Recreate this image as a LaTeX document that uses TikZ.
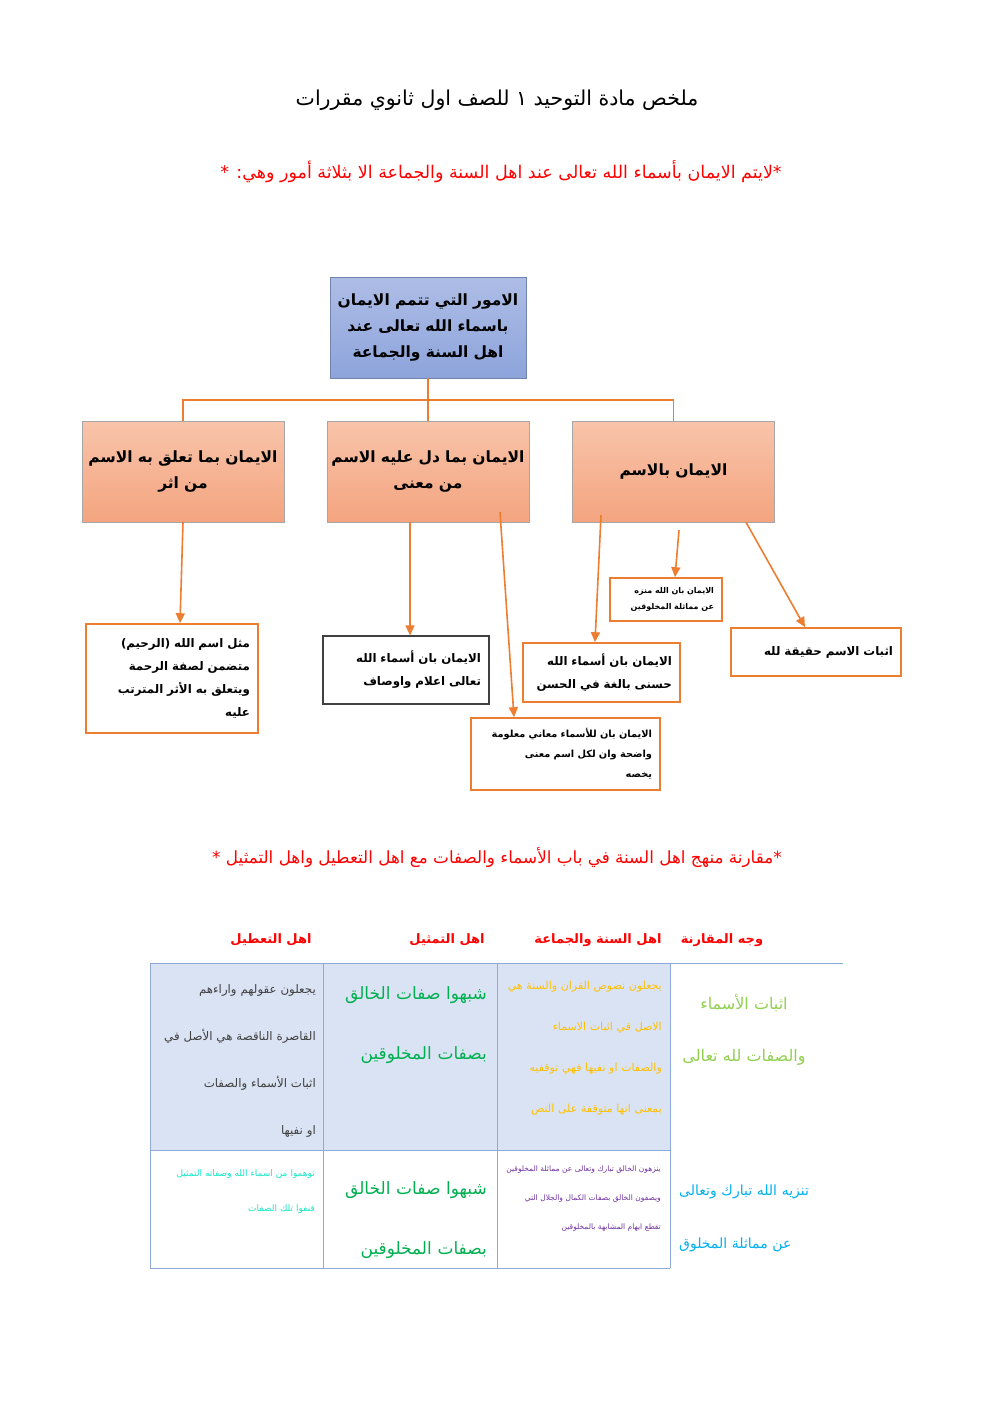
\documentclass[tikz,border=0pt]{standalone}
\usepackage{fontspec}
\newfontfamily\arabicfont[Script=Arabic]{DejaVu Sans}
\TeXXeTstate=1
\usetikzlibrary{arrows.meta}
\newcommand{\arl}[1]{\beginR #1\endR}

\definecolor{linkorange}{HTML}{ED7D31}
\definecolor{topfillA}{HTML}{AEBDE6}
\definecolor{topfillB}{HTML}{8DA4DB}
\definecolor{boxfillA}{HTML}{F8C4AA}
\definecolor{boxfillB}{HTML}{F4A47F}
\definecolor{tabline}{HTML}{8EAADB}
\definecolor{tabfill}{HTML}{DAE3F3}
\definecolor{lightgreen}{HTML}{92D050}
\definecolor{sunyellow}{HTML}{FFC000}
\definecolor{leafgreen}{HTML}{00B050}
\definecolor{darkgray}{HTML}{404040}
\definecolor{skyblue}{HTML}{00B0F0}
\definecolor{plum}{HTML}{7030A0}
\definecolor{aqua}{RGB}{20,232,196}

\tikzset{
  headbox/.style={draw=gray!70, top color=boxfillA, bottom color=boxfillB,
    minimum width=202pt, minimum height=101pt, text width=196pt, inner sep=3pt,
    align=center, font=\arabicfont\bfseries\fontsize{15.5}{26}\selectfont},
  leafbox/.style={draw=linkorange, line width=1.6pt, fill=white, inner xsep=8pt,
    inner ysep=0pt, align=right, font=\arabicfont\bfseries\fontsize{11.8}{23}\selectfont},
  link/.style={draw=linkorange, line width=1.6pt},
  arr/.style={link, -{Triangle[length=10pt,width=9pt]}},
  cell/.style={inner sep=0pt, font=\arabicfont},
}

\begin{document}
\begin{tikzpicture}[x=1pt, y=-1pt]
  \useasboundingbox[fill=white] (0,0) rectangle (992,1403);

  % headings
  \node[font=\arabicfont\fontsize{20.5}{26}\selectfont] (title) at (497,100)
    {\arl{ملخص مادة التوحيد ١ للصف اول ثانوي مقررات}};
  \node[font=\arabicfont\fontsize{17.5}{20}\selectfont, text=red] (intro) at (501,172)
    {\arl{*لايتم الايمان بأسماء الله تعالى عند اهل السنة والجماعة الا بثلاثة أمور وهي: *}};

  % tree
  \node[headbox, top color=topfillA, bottom color=topfillB, draw=topfillB!80!black,
        minimum width=196pt, text width=190pt] (umur) at (428,327.5)
    {\arl{الامور التي تتمم الايمان}\\ \arl{باسماء الله تعالى عند}\\ \arl{اهل السنة والجماعة}};
  \node[headbox] (athar) at (183,471.5) {\arl{الايمان بما تعلق به الاسم}\\ \arl{من اثر}};
  \node[headbox] (maana) at (428,471.5) {\arl{الايمان بما دل عليه الاسم}\\ \arl{من معنى}};
  \node[headbox] (ism) at (673.5,471.5) {\arl{الايمان بالاسم}};

  \draw[link] (umur.south) -- (maana.north);
  \draw[link] (athar.north) -- ++(0,-21) -| (ism.north);

  \node[leafbox, minimum width=112pt, minimum height=43pt, text width=96pt,
        font=\arabicfont\bfseries\fontsize{8}{16}\selectfont] (munazzah) at (666,599.5)
    {\arl{الايمان بان الله منزه}\\ \arl{عن مماثلة المخلوقين}};
  \node[leafbox, minimum width=170pt, minimum height=48pt, text width=154pt] (haqiqa) at (816,652)
    {\arl{اثبات الاسم حقيقة لله}\\[10pt]};
  \node[leafbox, minimum width=157pt, minimum height=59pt, text width=141pt] (husna) at (601.5,672.5)
    {\arl{الايمان بان أسماء الله}\\ \arl{حسنى بالغة في الحسن}};
  \node[leafbox, draw=darkgray, line width=1.2pt, minimum width=166pt, minimum height=68pt,
        text width=150pt] (alam) at (406,670)
    {\arl{الايمان بان أسماء الله}\\ \arl{تعالى اعلام واوصاف}};
  \node[leafbox, minimum width=189pt, minimum height=72pt, text width=173pt,
        font=\arabicfont\bfseries\fontsize{9.8}{20}\selectfont] (maani) at (565.5,754)
    {\arl{الايمان بان للأسماء معاني معلومة}\\ \arl{واضحة وان لكل اسم معنى}\\ \arl{يخصه}};
  \node[leafbox, minimum width=172pt, minimum height=109pt, text width=156pt] (mithal) at (172,678.5)
    {\arl{مثل اسم الله (الرحيم)}\\ \arl{متضمن لصفة الرحمة}\\ \arl{ويتعلق به الأثر المترتب}\\ \arl{عليه}};

  \draw[arr] ([xshift=72.5pt]ism.south) -- ([xshift=-11pt]haqiqa.north);
  \draw[arr] ([xshift=5.5pt,yshift=-8pt]ism.south) -- ([xshift=9pt]munazzah.north);
  \draw[arr] ([xshift=-72.5pt,yshift=7pt]ism.south) -- ([xshift=-6.5pt]husna.north);
  \draw[arr] ([xshift=-18pt]maana.south) -- ([xshift=4pt]alam.north);
  \draw[arr] ([xshift=72pt,yshift=10pt]maana.south) -- ([xshift=-51.5pt]maani.north);
  \draw[arr] (athar.south) -- ([xshift=8pt]mithal.north);

  % comparison
  \node[font=\arabicfont\fontsize{16.8}{20}\selectfont, text=red] (compare) at (497,858)
    {\arl{*مقارنة منهج اهل السنة في باب الأسماء والصفات مع اهل التعطيل واهل التمثيل *}};

  \foreach \cx/\name/\txt in {271/tatil/اهل التعطيل, 447/tamthil/اهل التمثيل,
                              598/sunna/اهل السنة والجماعة, 722/wajh/وجه المقارنة}
    \node[cell, text=red, font=\arabicfont\bfseries\fontsize{13}{18}\selectfont] (h-\name) at (\cx,940) {\arl{\txt}};

  % table
  \fill[tabfill] (150,963) rectangle (670,1150);
  \draw[tabline, line width=1pt] (150,963) -- (843,963);
  \draw[tabline, line width=1pt] (150,1150) -- (670,1150) (150,1268) -- (670,1268);
  \foreach \vx in {150,323,497,670}
    \draw[tabline, line width=1pt] (\vx,963) -- (\vx,1268);

  \node[cell, text=lightgreen, align=center, font=\arabicfont\fontsize{16}{52}\selectfont] (r1wajh) at (744,1030)
    {\arl{اثبات الأسماء}\\ \arl{والصفات لله تعالى}};
  \node[cell, text=sunyellow, anchor=east, align=right, text width=160pt,
        font=\arabicfont\fontsize{11}{41}\selectfont] (r1sunna) at (662,1048)
    {\arl{يجعلون نصوص القران والسنة هي}\\ \arl{الاصل في اثبات الاسماء}\\
     \arl{والصفات او نفيها فهي توقفيه}\\ \arl{بمعنى انها متوقفة على النص}};
  \node[cell, text=leafgreen, anchor=east, align=right, text width=160pt,
        font=\arabicfont\fontsize{17}{60}\selectfont] (r1tamthil) at (487,1025)
    {\arl{شبهوا صفات الخالق}\\ \arl{بصفات المخلوقين}};
  \node[cell, text=darkgray, anchor=east, align=right, text width=160pt,
        font=\arabicfont\fontsize{11.8}{47}\selectfont] (r1tatil) at (316,1061)
    {\arl{يجعلون عقولهم واراءهم}\\ \arl{القاصرة الناقصة هي الأصل في}\\
     \arl{اثبات الأسماء والصفات}\\ \arl{او نفيها}};

  \node[cell, text=skyblue, anchor=west, align=left, text width=160pt,
        font=\arabicfont\fontsize{14}{53}\selectfont] (r2wajh) at (679,1218)
    {\arl{تنزيه الله تبارك وتعالى}\\ \arl{عن مماثلة المخلوق}};
  \node[cell, text=plum, anchor=east, align=right, text width=160pt,
        font=\arabicfont\fontsize{7.5}{29}\selectfont] (r2sunna) at (661,1199)
    {\arl{ينزهون الخالق تبارك وتعالى عن مماثلة المخلوقين}\\
     \arl{ويصفون الخالق بصفات الكمال والجلال التي}\\ \arl{تقطع ايهام المشابهة بالمخلوقين}};
  \node[cell, text=leafgreen, anchor=east, align=right, text width=160pt,
        font=\arabicfont\fontsize{17}{60}\selectfont] (r2tamthil) at (487,1220)
    {\arl{شبهوا صفات الخالق}\\ \arl{بصفات المخلوقين}};
  \node[cell, text=aqua, anchor=east, align=right, text width=160pt,
        font=\arabicfont\fontsize{9}{35}\selectfont] (r2tatil) at (315,1192)
    {\arl{توهموا من اسماء الله وصفاته التمثيل}\\ \arl{فنفوا تلك الصفات}};
\end{tikzpicture}
\end{document}
